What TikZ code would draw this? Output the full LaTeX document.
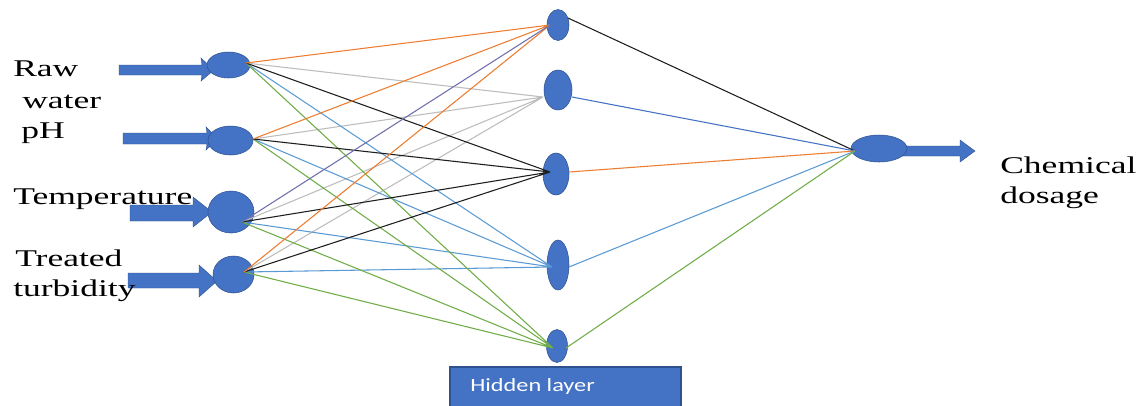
\documentclass[tikz,border=0pt]{standalone}
\usepackage{fontspec}
\setmainfont{Liberation Serif}
\newfontfamily\boxfont{Carlito}
\usetikzlibrary{shapes.geometric}
\definecolor{nb}{HTML}{4472C4}
\definecolor{nbd}{HTML}{2F528F}
\definecolor{cor}{HTML}{ED7D31}
\definecolor{cgr}{HTML}{BDBDBD}
\definecolor{cbk}{HTML}{1E1E1E}
\definecolor{clb}{HTML}{5B9BD5}
\definecolor{cgn}{HTML}{70AD47}
\definecolor{cpu}{HTML}{6F70AE}
\newcommand{\sx}[1]{\scalebox{1.48}[1]{#1}}
\tikzset{
  neuron/.style 2 args={ellipse, fill=nb, draw=nbd, line width=0.4pt, inner sep=0pt,
    minimum width=#1*0.75pt, minimum height=#2*0.75pt},
  lab/.style={anchor=base west, inner sep=0pt, font=\fontsize{18}{20}\selectfont, text=black},
  wire/.style={line width=0.8pt},
  blockarrow/.style={fill=nb, draw=nbd, line width=0.3pt}
}
\begin{document}
\begin{tikzpicture}[x=0.75pt,y=-0.75pt]
\useasboundingbox (0,0) rectangle (1145,405);
\clip (0,0) rectangle (1145,405);
\fill[white] (0,0) rectangle (1145,405);

% input block arrows
\fill[blockarrow] (119,65) -- (202,65) -- (201,58) -- (214,70) -- (201,81) -- (202,75) -- (119,75) -- cycle;
\fill[blockarrow] (123,133) -- (207,133) -- (206,127) -- (218,139) -- (206,150) -- (207,144) -- (123,144) -- cycle;
\fill[blockarrow] (130,205) -- (193,205) -- (193,197) -- (212,212) -- (193,227) -- (193,221) -- (130,221) -- cycle;
\fill[blockarrow] (128,273) -- (199,273) -- (199,265) -- (217,281) -- (199,297) -- (199,288) -- (128,288) -- cycle;

% input neurons
\node[neuron={43}{26}] (i1) at (228.5,65) {};
\node[neuron={45}{29}] (i2) at (230.5,140.5) {};
\node[neuron={46}{42}] (i3) at (231,212) {};
\node[neuron={41}{37}] (i4) at (233.5,274.5) {};

% hidden neurons
\node[neuron={22}{31}] (h1) at (558,25) {};
\node[neuron={28}{40}] (h2) at (558,90) {};
\node[neuron={26}{42}] (h3) at (556,174) {};
\node[neuron={22}{50}] (h4) at (558,265) {};
\node[neuron={21}{33}] (h5) at (557,346) {};

% output arrow and neuron
\fill[blockarrow] (900,146) -- (960,146) -- (960,140) -- (975,151) -- (960,162) -- (960,156) -- (900,156) -- cycle;
\node[neuron={56}{27}] (o) at (879,148.5) {};

% connection points
\coordinate (i1o) at (246,63);
\coordinate (i2o) at (253,139);
\coordinate (i3o) at (242,222);
\coordinate (i4o) at (244,272);
\coordinate (h1i) at (550,25);
\coordinate (h2i) at (543,97);
\coordinate (h3i) at (550,172);
\coordinate (h4i) at (552,267);
\coordinate (h5i) at (553,348);
\coordinate (h1o) at (568,18);
\coordinate (h2o) at (572,97);
\coordinate (h3o) at (569,172);
\coordinate (h4o) at (569,267);
\coordinate (h5o) at (566,348);
\coordinate (oi) at (855,151);

% input -> hidden
\draw[wire,cgr] (i1o) -- (h2i) (i2o) -- (h2i) (i3o) -- (h2i) (i4o) -- (h2i);
\draw[wire,clb] (i1o) -- (h4i) (i2o) -- (h4i) (i3o) -- (h4i) (i4o) -- (h4i);
\draw[wire,cgn] (i1o) -- (h5i) (i2o) -- (h5i) (i3o) -- (h5i) (i4o) -- (h5i);
\draw[wire,cbk] (i1o) -- (h3i) (i2o) -- (h3i) (i3o) -- (h3i) (i4o) -- (h3i);
\draw[wire,cor] (i1o) -- (h1i) (i2o) -- (h1i) (i4o) -- (h1i);
\draw[wire,cpu] (i3o) -- (h1i);

% hidden -> output
\draw[wire,cbk] (h1o) -- (oi);
\draw[wire,nb] (h2o) -- (oi);
\draw[wire,cor] (h3o) -- (oi);
\draw[wire,clb] (h4o) -- (oi);
\draw[wire,cgn] (h5o) -- (oi);

% labels
\node[lab] (t1) at (13,76) {\sx{Raw}};
\node[lab] (t2) at (22,108) {\sx{water}};
\node[lab] (t3) at (21,138) {\sx{pH}};
\node[lab] (t4) at (13,204) {\sx{Temperature}};
\node[lab] (t5) at (15,266) {\sx{Treated}};
\node[lab] (t6) at (13,296) {\sx{turbidity}};
\node[lab] (t7) at (1000,173) {\sx{Chemical}};
\node[lab] (t8) at (1000,203) {\sx{dosage}};

% hidden layer box
\draw[fill=nb, draw=nbd, line width=0.8pt] (450,367) rectangle (681,410);
\node[anchor=base west, inner sep=0pt, text=white, font=\boxfont\fontsize{14}{16}\selectfont] (hl) at (470,391) {\scalebox{1.3}[1]{Hidden layer}};
\end{tikzpicture}
\end{document}
